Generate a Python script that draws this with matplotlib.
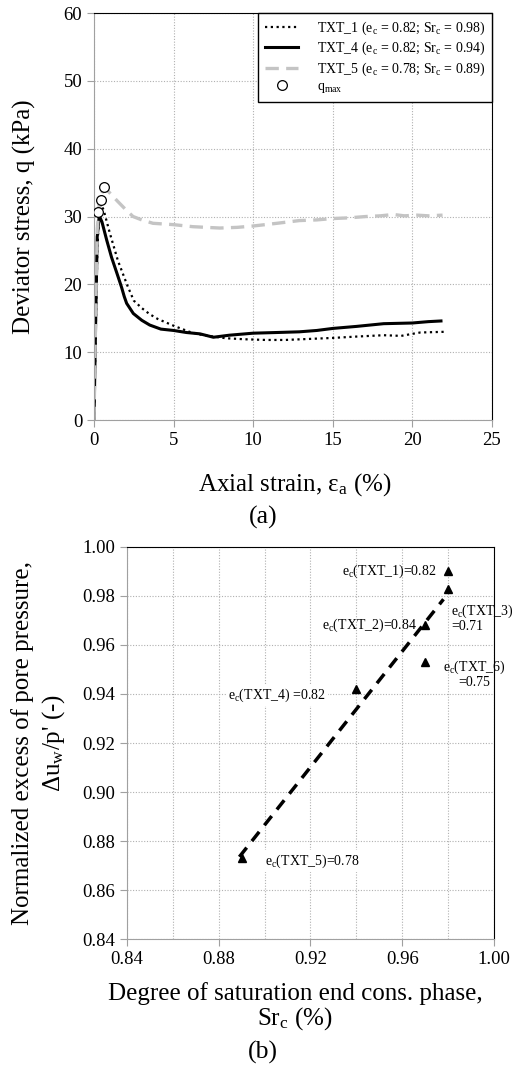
import matplotlib
matplotlib.use("Agg")
import matplotlib.pyplot as plt
import numpy as np

plt.rcParams['font.family'] = ['Liberation Serif', 'DejaVu Serif']
plt.rcParams['mathtext.fontset'] = 'custom'
plt.rcParams['mathtext.rm'] = 'Liberation Serif'
plt.rcParams['mathtext.it'] = 'Liberation Serif:italic'

# === (a) stress-strain curves ===
eps_txt1 = [0, 0.1, 0.2, 0.3, 0.42, 0.6, 1.0, 1.5, 2.1, 2.5, 3.0, 3.5, 4.0, 5.0, 6.0, 6.66,
            7.5, 8.3, 9.5, 10.8, 12.0, 13.0, 15.0, 16.5, 18.2, 19.3, 20.0, 20.5, 22.0]
q_txt1 = [0, 12, 24, 30, 31.8, 31.0, 27.5, 23.5, 19.8, 17.6, 16.5, 15.6, 14.9, 13.9, 13.0, 12.6,
          12.3, 12.05, 11.9, 11.8, 11.8, 11.9, 12.1, 12.3, 12.5, 12.4, 12.7, 12.9, 13.0]

eps_txt4 = [0, 0.1, 0.2, 0.33, 0.5, 0.8, 1.1, 1.43, 1.6, 1.74, 1.9, 2.05, 2.47, 3.0, 3.5, 4.2,
            5.0, 5.8, 6.66, 7.5, 8.5, 10.0, 11.5, 12.9, 14.0, 15.0, 16.5, 18.2, 20.0, 21.0, 21.8]
q_txt4 = [0, 14, 27, 30.1, 29.2, 26.5, 24.0, 21.7, 20.5, 19.5, 18.2, 17.2, 15.7, 14.7, 14.0, 13.4,
          13.2, 12.9, 12.7, 12.2, 12.5, 12.8, 12.9, 13.0, 13.2, 13.5, 13.8, 14.2, 14.3, 14.5, 14.6]

eps_txt5 = [0, 0.1, 0.2, 0.35, 0.61, 0.9, 1.5, 2.0, 2.45, 3.0, 3.7, 5.0, 6.2, 7.9, 9.0, 10.0,
            11.5, 12.9, 14.0, 15.0, 16.0, 17.1, 18.0, 18.8, 19.5, 20.3, 21.0, 21.9]
q_txt5 = [0, 15, 28, 32.5, 34.1, 33.7, 32.2, 31.0, 30.0, 29.5, 29.0, 28.8, 28.5, 28.3, 28.4, 28.6,
          29.0, 29.4, 29.5, 29.7, 29.8, 30.0, 30.1, 30.3, 30.1, 30.2, 30.1, 30.2]

eps_qmax = [0.23, 0.42, 0.61]
q_qmax = [30.7, 32.5, 34.3]

legend_labels = [r'TXT_1 (e$_\mathrm{c}$ = 0.82; Sr$_\mathrm{c}$ = 0.98)',
                 r'TXT_4 (e$_\mathrm{c}$ = 0.82; Sr$_\mathrm{c}$ = 0.94)',
                 r'TXT_5 (e$_\mathrm{c}$ = 0.78; Sr$_\mathrm{c}$ = 0.89)',
                 r'q$_\mathrm{max}$']

# === (b) pore pressure vs saturation ===
tests = ['TXT_1', 'TXT_3', 'TXT_2', 'TXT_6', 'TXT_4', 'TXT_5']
sr_c = [0.98, 0.98, 0.97, 0.97, 0.94, 0.89]
du_p = [0.990, 0.983, 0.968, 0.953, 0.942, 0.873]
e_c = ['0.82', '0.71', '0.84', '0.75', '0.82', '0.78']

GRID = '#b0b0b0'
SPINE = '#a0a0a0'


def style_axes(ax):
    ax.grid(True, which='both', color=GRID, linestyle=(0, (1, 1.5)), linewidth=0.8)
    ax.set_axisbelow(True)
    for s in ['left', 'bottom']:
        ax.spines[s].set_color(SPINE)
    for s in ['top', 'right']:
        ax.spines[s].set_color('black')
    ax.tick_params(which='both', direction='out', color=SPINE, length=5, labelsize=13.5)
    ax.tick_params(which='minor', length=0)


fig = plt.figure(figsize=(5.14, 10.66), dpi=100)

# --- (a) ---
ax1 = fig.add_axes([0.1829, 0.606, 0.957 - 0.1829, 0.9878 - 0.606])
style_axes(ax1)
ax1.plot(eps_txt1, q_txt1, color='black', linestyle=(0, (1, 1.6)), linewidth=1.6, label=legend_labels[0])
ax1.plot(eps_txt4, q_txt4, color='black', linestyle='-', linewidth=2.2, label=legend_labels[1])
ax1.plot(eps_txt5, q_txt5, color='#c4c4c4', linestyle=(0, (4, 2.2)), linewidth=2.4, label=legend_labels[2])
ax1.plot(eps_qmax, q_qmax, linestyle='none', marker='o', markersize=7, markerfacecolor='white',
         markeredgecolor='black', markeredgewidth=0.9, label=legend_labels[3], zorder=5)
ax1.set_xlim(0, 25)
ax1.set_ylim(0, 60)
ax1.set_xticks(np.arange(0, 26, 5))
ax1.set_yticks(np.arange(0, 61, 10))
ax1.set_xlabel(r'Axial strain, ε$_\mathrm{a}$ (%)', fontsize=18)
ax1.xaxis.set_label_coords(0.505, -0.125)
ax1.set_ylabel('Deviator stress, q (kPa)', fontsize=18)
ax1.yaxis.set_label_coords(-0.146, 0.5)
leg = ax1.legend(loc='upper right', borderaxespad=0, fancybox=False, framealpha=1,
                 edgecolor='black', fontsize=10, handlelength=2.4, labelspacing=0.2,
                 borderpad=0.5, handletextpad=1.3)
leg.get_frame().set_linewidth(1.0)
fig.text(0.512, 1 - 517 / 1066, '(a)', ha='center', va='center', fontsize=18.5)

# --- (b) ---
ax2 = fig.add_axes([0.247, 0.1191, 0.961 - 0.247, 0.4869 - 0.1191])
style_axes(ax2)
ax2.set_xlim(0.84, 1.00)
ax2.set_ylim(0.84, 1.00)
ax2.set_xticks(np.arange(0.84, 1.001, 0.04))
ax2.set_xticks(np.arange(0.84, 1.001, 0.02), minor=True)
ax2.set_yticks(np.arange(0.84, 1.001, 0.02))
ax2.xaxis.set_major_formatter(matplotlib.ticker.FormatStrFormatter('%.2f'))
ax2.yaxis.set_major_formatter(matplotlib.ticker.FormatStrFormatter('%.2f'))

# linear trend through the points
k, b = np.polyfit(sr_c, du_p, 1)
xt = np.array([min(sr_c) - 0.001, max(sr_c) - 0.002])
ax2.plot(xt, k * xt + b, color='black', linestyle=(0, (3.4, 2.4)), linewidth=2.5, zorder=3)
ax2.plot(sr_c, du_p, linestyle='none', marker='^', markersize=6, color='black', zorder=4)

bb = dict(facecolor='white', edgecolor='none', pad=1.5)
# offsets of each label from its point, in data units
ann = {
    'TXT_1': dict(dx=-0.0049, dy=0.0002, ha='right', ma='left'),
    'TXT_3': dict(dx=0.0013, dy=-0.012, ha='left', ma='left'),
    'TXT_2': dict(dx=-0.0036, dy=0.0002, ha='right', ma='left'),
    'TXT_6': dict(dx=0.0213, dy=-0.0048, ha='center', ma='center'),
    'TXT_4': dict(dx=-0.056, dy=-0.0024, ha='left', ma='left'),
    'TXT_5': dict(dx=0.0102, dy=-0.0012, ha='left', ma='left'),
}
for name, x, y, e in zip(tests, sr_c, du_p, e_c):
    a = ann[name]
    if name in ('TXT_3', 'TXT_6'):
        txt = 'e$_\\mathrm{c}$(%s)\n=%s' % (name, e)
    elif name == 'TXT_4':
        txt = 'e$_\\mathrm{c}$(%s) =%s' % (name, e)
    else:
        txt = 'e$_\\mathrm{c}$(%s)=%s' % (name, e)
    ax2.text(x + a['dx'], y + a['dy'], txt, ha=a['ha'], va='center', multialignment=a['ma'],
             fontsize=10, bbox=bb if name in ('TXT_4', 'TXT_5') else None, zorder=6,
             linespacing=1.0)

ax2.set_xlabel('Degree of saturation end cons. phase,\nSr$_\\mathrm{c}$ (%)', fontsize=18,
               linespacing=1.0)
ax2.xaxis.set_label_coords(0.458, -0.11)
ax2.set_ylabel("Normalized excess of pore pressure,\nΔu$_\\mathrm{w}$/p' (-)", fontsize=18,
               linespacing=1.3)
ax2.yaxis.set_label_coords(-0.163, 0.5)
fig.text(0.512, 1 - 1052 / 1066, '(b)', ha='center', va='center', fontsize=18.5)

fig.savefig('out.png', dpi=100)
